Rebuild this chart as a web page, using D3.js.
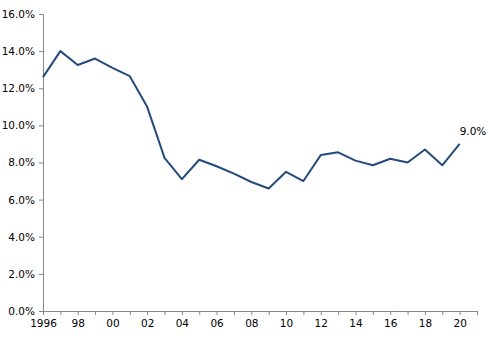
<!DOCTYPE html>
<html>
<head>
<meta charset="utf-8">
<script src="https://cdn.jsdelivr.net/npm/d3@7"></script>
<style>
  body { margin: 0; background: #fff; }
  svg { display: block; }
  text { font-family: "DejaVu Sans", sans-serif; font-size: 10.5px; fill: #000; }
</style>
</head>
<body>
<svg width="492" height="340"></svg>
<script>
// годы и значения (%)
const years = [1996, 1997, 1998, 1999, 2000, 2001, 2002, 2003, 2004, 2005, 2006, 2007, 2008,
               2009, 2010, 2011, 2012, 2013, 2014, 2015, 2016, 2017, 2018, 2019, 2020];
const values = [12.6, 14.0, 13.25, 13.6, 13.1, 12.65, 11.0, 8.25, 7.1, 8.15, 7.8, 7.4, 6.95,
                6.6, 7.5, 7.0, 8.4, 8.55, 8.1, 7.85, 8.2, 8.0, 8.7, 7.85, 9.0];
const yTicks = [0, 2, 4, 6, 8, 10, 12, 14, 16];
const xTickYears = d3.range(1996, 2022);
const lastLabel = "9.0%";

const svg = d3.select("svg");
const area = { left: 43, right: 477, top: 14, bottom: 311 };

const scX = d3.scaleLinear().domain([1996, 2021]).range([area.left, area.right]);
const scY = d3.scaleLinear().domain([0, 16]).range([area.bottom, area.top]);

// ось Y
const gy = svg.append("g")
    .attr("transform", `translate(${area.left},0)`)
    .call(d3.axisLeft(scY).tickValues(yTicks).tickSize(4).tickPadding(4)
          .tickFormat(d => d.toFixed(1) + "%"));
gy.select(".domain").attr("stroke", "#868686");
gy.selectAll(".tick line").attr("stroke", "#868686");
gy.selectAll("text").style("font-size", "10.5px");

// ось X
const gx = svg.append("g")
    .attr("transform", `translate(0,${area.bottom})`)
    .call(d3.axisBottom(scX).tickValues(xTickYears).tickSize(4).tickPadding(5)
          .tickFormat(d => {
              if (d === 1996) return "1996";
              if (d % 2 === 0 && d <= 2020) return String(d).slice(2);
              return "";
          }));
gx.select(".domain").attr("stroke", "#868686");
gx.selectAll(".tick line").attr("stroke", "#868686");
gx.selectAll("text").style("font-size", "10.5px");

// линия
const line = d3.line().x((d, i) => scX(years[i])).y(d => scY(d));
svg.append("path")
    .datum(values)
    .attr("fill", "none")
    .attr("stroke", "#254a7c")
    .attr("stroke-width", 2)
    .attr("stroke-linejoin", "round")
    .attr("d", line);

// подпись последнего значения
svg.append("text")
    .attr("x", scX(years[years.length - 1]))
    .attr("y", scY(values[values.length - 1]) - 9)
    .text(lastLabel);
</script>
</body>
</html>
